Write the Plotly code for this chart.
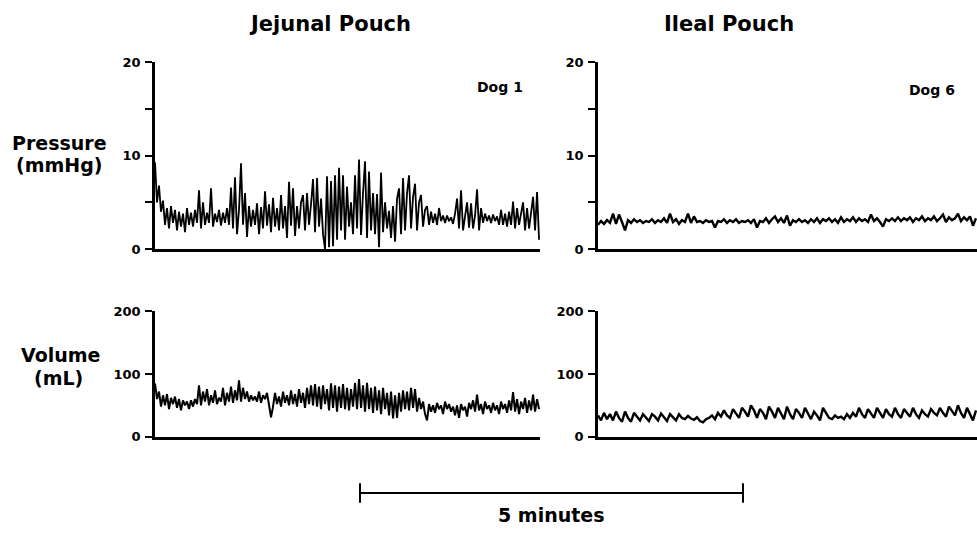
import plotly.graph_objects as go

# ---------------- data ----------------
# sampling intervals (seconds) of the traces as transcribed
JEJ_DT = 1.567   # jejunal pouch traces (Dog 1)
ILE_DT = 2.35    # ileal pouch traces (Dog 6)

jejunal_pressure = [
    9.3, 5.0, 6.8, 4.0, 5.2, 2.6, 4.4, 2.2, 4.6, 2.8,
    4.2, 2.0, 4.0, 2.4, 3.8, 1.8, 4.4, 2.6, 3.9, 2.4,
    4.2, 2.8, 6.3, 2.2, 5.0, 2.6, 3.9, 2.8, 6.5, 2.4,
    3.8, 2.9, 4.2, 2.5, 3.9, 2.8, 4.4, 2.6, 6.6, 2.2,
    7.7, 1.6, 4.2, 9.2, 2.6, 6.0, 1.3, 4.6, 2.4, 4.2,
    2.6, 4.9, 1.6, 4.5, 2.2, 6.2, 2.5, 4.8, 1.8, 5.5,
    2.4, 4.4, 2.0, 5.8, 2.2, 4.6, 1.2, 7.2, 2.5, 6.5,
    1.4, 4.6, 2.2, 5.0, 5.8, 2.0, 6.0, 2.6, 4.8, 7.5,
    1.8, 7.6, 2.4, 5.4, 1.6, 0.0, 7.8, 0.2, 7.3, 0.3,
    7.9, 1.0, 8.7, 2.0, 7.9, 1.0, 6.7, 2.4, 5.0, 1.6,
    7.9, 2.2, 9.6, 1.5, 6.0, 9.4, 1.2, 8.3, 2.0, 6.0,
    1.6, 5.9, 0.2, 8.2, 1.8, 5.0, 2.2, 4.1, 1.2, 4.6,
    0.8, 5.4, 6.5, 1.6, 7.6, 2.0, 6.0, 7.9, 2.2, 5.6,
    7.0, 2.0, 5.0, 5.8, 2.4, 4.2, 4.6, 2.6, 4.0, 2.8,
    3.8, 2.6, 4.4, 3.0, 3.6, 2.8, 3.6, 3.0, 3.4, 2.7,
    3.8, 5.4, 2.2, 6.3, 2.0, 3.8, 5.0, 2.3, 4.9, 2.2,
    3.6, 6.4, 2.0, 4.4, 2.8, 3.8, 3.0, 3.6, 2.8, 3.7,
    3.0, 3.5, 2.6, 4.2, 2.6, 3.8, 2.4, 4.0, 2.6, 5.1,
    2.2, 4.4, 2.6, 3.8, 5.0, 2.0, 4.4, 2.2, 3.8, 5.6,
    2.0, 6.1, 1.0,
]

jejunal_volume = [
    85, 60, 72, 48, 66, 50, 68, 44, 62, 52,
    64, 46, 60, 42, 58, 50, 56, 44, 58, 48,
    60, 52, 82, 50, 72, 56, 76, 50, 66, 54,
    74, 52, 62, 56, 78, 50, 70, 56, 80, 54,
    74, 58, 90, 56, 78, 60, 72, 56, 66, 58,
    64, 56, 72, 54, 66, 60, 70, 50, 31, 48,
    70, 52, 64, 48, 72, 54, 66, 50, 74, 52,
    68, 48, 76, 54, 70, 46, 78, 52, 82, 50,
    84, 48, 80, 44, 82, 52, 76, 42, 85, 46,
    82, 40, 80, 46, 84, 44, 78, 42, 76, 48,
    86, 44, 92, 46, 82, 40, 86, 44, 78, 38,
    80, 42, 74, 36, 78, 44, 70, 34, 72, 29,
    66, 30, 70, 40, 74, 44, 72, 42, 78, 46,
    76, 40, 62, 44, 56, 36, 26, 52, 40, 50,
    38, 54, 44, 50, 36, 56, 44, 52, 40, 48,
    34, 50, 30, 52, 42, 48, 32, 54, 44, 58,
    40, 67, 42, 52, 36, 56, 44, 50, 38, 54,
    42, 50, 36, 56, 44, 52, 38, 58, 42, 71,
    40, 60, 36, 56, 44, 62, 38, 58, 42, 67,
    40, 60, 44,
]

ileal_pressure = [
    2.6, 3.0, 2.7, 3.1, 2.8, 3.8, 2.7, 3.7, 2.9, 2.0,
    3.1, 2.8, 3.2, 2.9, 3.1, 2.8, 3.0, 2.9, 3.2, 2.8,
    3.1, 2.9, 3.3, 2.8, 3.8, 2.9, 3.2, 2.7, 3.1, 2.9,
    3.8, 2.8, 3.5, 2.9, 3.0, 2.8, 3.1, 2.9, 3.0, 2.3,
    3.0, 2.9, 3.2, 2.8, 3.1, 2.9, 3.2, 2.8, 3.0, 2.9,
    3.1, 2.8, 3.2, 2.3, 3.0, 2.9, 3.3, 2.8, 3.2, 3.5,
    2.9, 3.3, 2.8, 3.6, 2.5, 3.1, 2.9, 3.2, 2.9, 3.1,
    2.8, 3.2, 2.9, 3.3, 2.8, 3.2, 3.0, 3.3, 2.9, 3.2,
    2.8, 3.4, 2.9, 3.2, 3.0, 3.4, 2.9, 3.3, 3.0, 3.2,
    2.9, 3.7, 3.0, 3.3, 2.9, 2.4, 3.2, 3.0, 3.3, 3.0,
    3.4, 3.0, 3.3, 3.1, 3.4, 2.9, 3.3, 3.1, 3.5, 3.0,
    3.3, 3.1, 3.5, 3.0, 3.3, 3.7, 2.9, 3.4, 3.1, 3.3,
    3.8, 3.0, 3.4, 3.1, 3.5, 2.5, 3.3,
]

ileal_volume = [
    34, 26, 38, 28, 36, 26, 40, 30, 24, 40,
    30, 24, 38, 32, 26, 36, 30, 25, 36, 32,
    26, 37, 31, 25, 36, 31, 26, 36, 30, 28,
    33, 29, 27, 31, 25, 23, 28, 30, 34, 28,
    38, 32, 42, 34, 30, 44, 36, 30, 46, 40,
    32, 50, 42, 30, 44, 38, 28, 48, 40, 30,
    46, 38, 28, 48, 36, 28, 44, 38, 30, 46,
    36, 28, 40, 34, 26, 46, 38, 30, 28, 34,
    30, 32, 28, 36, 30, 38, 32, 46, 36, 30,
    44, 36, 30, 46, 38, 30, 44, 36, 32, 46,
    36, 30, 44, 38, 32, 46, 36, 30, 42, 36,
    32, 44, 38, 34, 46, 38, 32, 48, 40, 34,
    50, 38, 30, 46, 36, 26, 42,
]

pressure_ticks = [0, 5, 10, 15, 20]
pressure_ticktext = ["0", "", "10", "", "20"]
volume_ticks = [0, 100, 200]
volume_ticktext = ["0", "100", "200"]

panel_titles = ["Jejunal Pouch", "Ileal Pouch"]
dog_labels = ["Dog 1", "Dog 6"]
row_labels = [("Pressure", "(mmHg)"), ("Volume", "(mL)")]
scale_label = "5 minutes"

# ---------------- figure ----------------
W, H = 977, 539
FONT = "DejaVu Sans"


def px_x(p):
    return p / W


def px_y(p):
    return 1 - p / H


jej_t = [i * JEJ_DT for i in range(len(jejunal_pressure))]
jej_tv = [i * JEJ_DT for i in range(len(jejunal_volume))]
ile_t = [i * ILE_DT for i in range(len(ileal_pressure))]
ile_tv = [i * ILE_DT for i in range(len(ileal_volume))]

fig = go.Figure()
fig.add_trace(go.Scatter(x=jej_t, y=jejunal_pressure, mode="lines",
                         line=dict(color="black", width=1.8), xaxis="x", yaxis="y"))
fig.add_trace(go.Scatter(x=ile_t, y=ileal_pressure, mode="lines",
                         line=dict(color="black", width=2.4), xaxis="x2", yaxis="y2"))
fig.add_trace(go.Scatter(x=jej_tv, y=jejunal_volume, mode="lines",
                         line=dict(color="black", width=2.0), xaxis="x3", yaxis="y3"))
fig.add_trace(go.Scatter(x=ile_tv, y=ileal_volume, mode="lines",
                         line=dict(color="black", width=2.4), xaxis="x4", yaxis="y4"))

left_dom = [px_x(155), px_x(540)]
right_dom = [px_x(598), 1.0]
top_dom = [px_y(249), px_y(57)]
bot_dom = [px_y(442), px_y(313)]

xcommon = dict(showline=True, linecolor="black", linewidth=2.5, showticklabels=False,
               ticks="", showgrid=False, zeroline=False, fixedrange=True)
tickfont = dict(family=FONT, size=13, color="black", weight="bold")
ycommon = dict(showline=True, linecolor="black", linewidth=2.5, ticks="outside",
               ticklen=7, tickwidth=2, tickcolor="black", showgrid=False,
               zeroline=False, tickfont=tickfont, ticklabelstandoff=2)

fig.update_layout(
    width=W, height=H,
    margin=dict(l=0, r=0, t=0, b=0),
    paper_bgcolor="white", plot_bgcolor="white",
    showlegend=False,
    xaxis=dict(domain=left_dom, range=[0, 301.6], anchor="y", **xcommon),
    xaxis2=dict(domain=right_dom, range=[0, 296.9], anchor="y2", **xcommon),
    xaxis3=dict(domain=left_dom, range=[0, 301.6], anchor="y3", **xcommon),
    xaxis4=dict(domain=right_dom, range=[0, 296.9], anchor="y4", **xcommon),
    yaxis=dict(domain=top_dom, range=[0, 20], anchor="x", tickvals=pressure_ticks,
               ticktext=pressure_ticktext, **ycommon),
    yaxis2=dict(domain=top_dom, range=[0, 20], anchor="x2", tickvals=pressure_ticks,
                ticktext=pressure_ticktext, **ycommon),
    yaxis3=dict(domain=bot_dom, range=[0, 200], anchor="x3", tickvals=volume_ticks,
                ticktext=volume_ticktext, **ycommon),
    yaxis4=dict(domain=bot_dom, range=[0, 200], anchor="x4", tickvals=volume_ticks,
                ticktext=volume_ticktext, **ycommon),
)


def label(text, x, y, size, xanchor="center"):
    fig.add_annotation(text=text, x=px_x(x), y=px_y(y), xref="paper", yref="paper",
                       showarrow=False, xanchor=xanchor, yanchor="middle",
                       font=dict(family=FONT, size=size, color="black", weight="bold"))


label(panel_titles[0], 330, 18, 21)
label(panel_titles[1], 729, 18, 21)
label(dog_labels[0], 500, 82, 14)
label(dog_labels[1], 932, 85, 14)
label(row_labels[0][0], 59, 140, 19)
label(row_labels[0][1], 59, 163, 19)
label(row_labels[1][0], 60, 358, 19)
label(row_labels[1][1], 58, 382, 19)
label(scale_label, 551, 523, 19)

# scale bar (5 minutes)
bar = dict(color="black", width=2)
fig.add_shape(type="line", xref="paper", yref="paper", x0=px_x(360), x1=px_x(743),
              y0=px_y(500), y1=px_y(500), line=bar)
fig.add_shape(type="line", xref="paper", yref="paper", x0=px_x(360), x1=px_x(360),
              y0=px_y(490), y1=px_y(510), line=bar)
fig.add_shape(type="line", xref="paper", yref="paper", x0=px_x(743), x1=px_x(743),
              y0=px_y(490), y1=px_y(510), line=bar)

fig.write_html("out.html")
